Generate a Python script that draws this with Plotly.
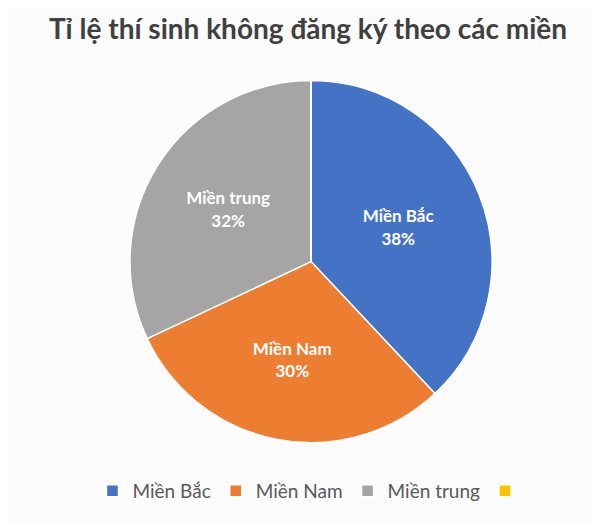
import plotly.graph_objects as go

title = "Tỉ lệ thí sinh không đăng ký theo các miền"
labels = ["Miền Bắc", "Miền Nam", "Miền trung", " "]
values = [38, 30, 32, 0]
texts = ["Miền Bắc<br>38%", "Miền Nam<br>30%", "Miền trung<br>32%", ""]
colors = ["#4472C4", "#ED7D31", "#A5A5A5", "#FFC000"]

fig = go.Figure(go.Pie(
    labels=labels,
    values=values,
    text=texts,
    textinfo="text",
    textposition="inside",
    insidetextorientation="horizontal",
    sort=False,
    direction="clockwise",
    rotation=0,
    marker=dict(colors=colors, line=dict(color="white", width=1.5)),
    textfont=dict(family="Lato, Noto Sans, sans-serif", size=17, color="white", weight="bold"),
    domain=dict(x=[0.2033, 0.8067], y=[0.171, 0.863]),
    hoverinfo="label+percent",
))

fig.update_layout(
    width=600, height=525,
    margin=dict(l=0, r=0, t=0, b=0),
    paper_bgcolor="#FBFBFB",
    plot_bgcolor="#FBFBFB",
    title=dict(text="<b>" + title + "</b>", x=0.5, xanchor="center", y=0.96, yanchor="middle",
               font=dict(family="Lato, Noto Sans, sans-serif", size=28, color="#404040")),
    showlegend=True,
    legend=dict(orientation="h", x=0.51, xanchor="center", y=0.08, yanchor="middle",
                font=dict(family="Lato, Noto Sans, sans-serif", size=19, color="#595959"),
                traceorder="normal", itemwidth=30),
    uniformtext=dict(minsize=10, mode="show"),
)

fig.write_html("out.html")
